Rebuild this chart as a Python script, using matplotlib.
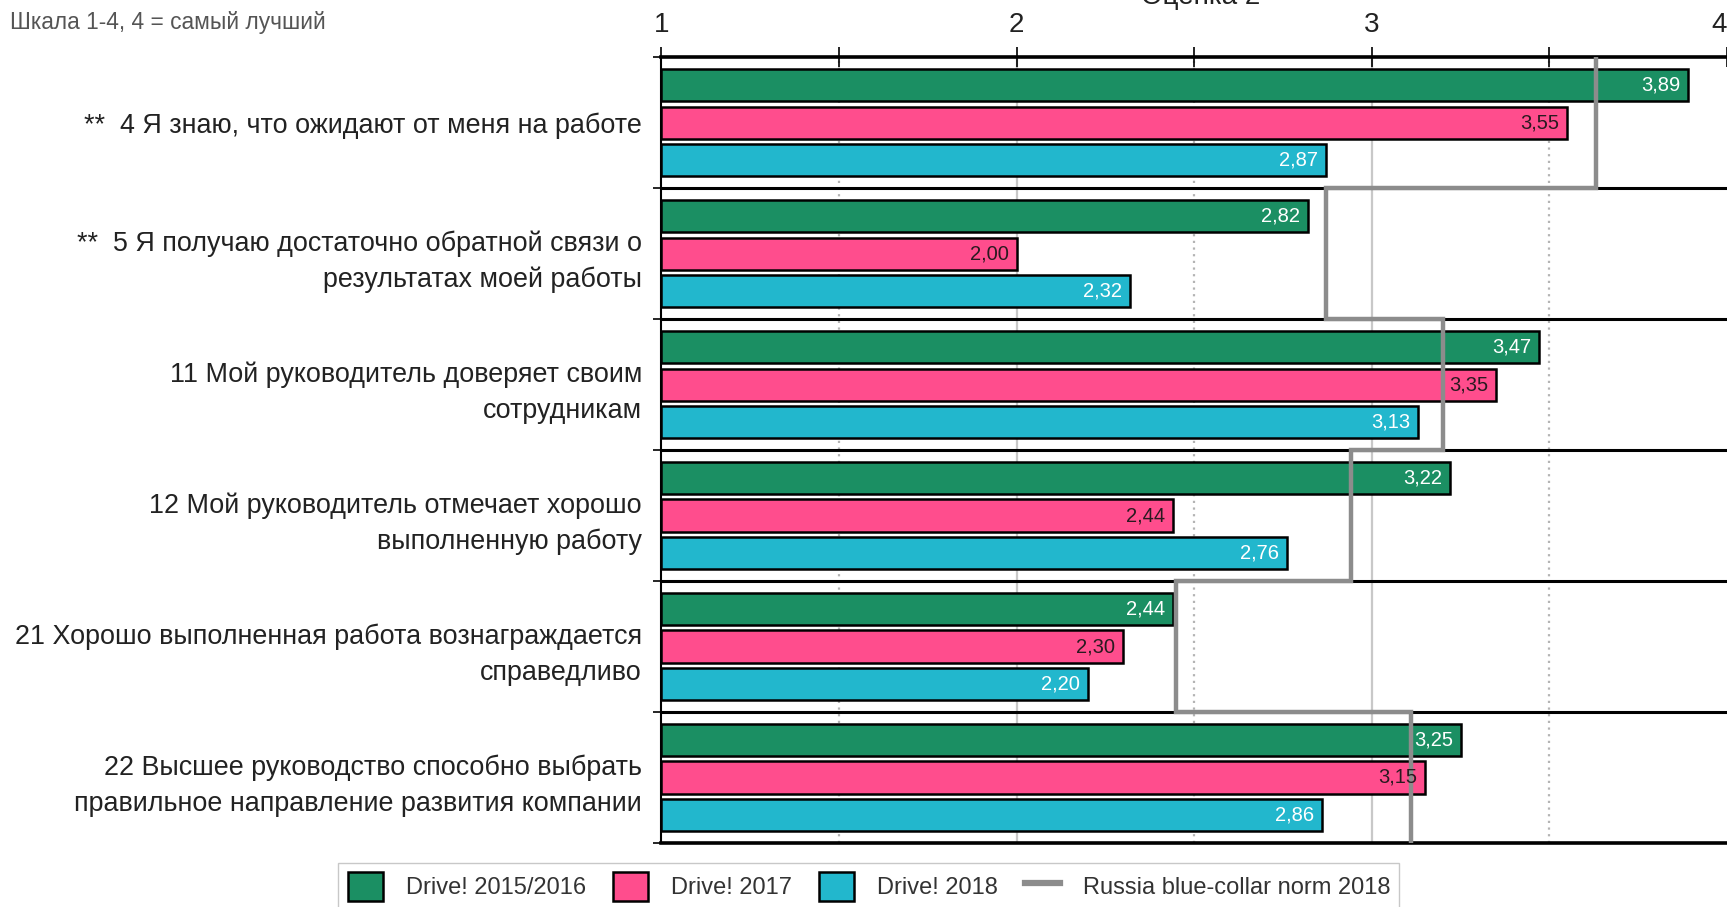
import numpy as np
import matplotlib

matplotlib.use("Agg")
import matplotlib.pyplot as plt
from matplotlib.patches import Patch
from matplotlib.lines import Line2D

plt.rcParams["font.family"] = ["Liberation Sans", "DejaVu Sans"]

categories = [
    "**  4 Я знаю, что ожидают от меня на работе",
    "**  5 Я получаю достаточно обратной связи о\nрезультатах моей работы",
    "11 Мой руководитель доверяет своим\nсотрудникам",
    "12 Мой руководитель отмечает хорошо\nвыполненную работу",
    "21 Хорошо выполненная работа вознаграждается\nсправедливо",
    "22 Высшее руководство способно выбрать\nправильное направление развития компании",
]
series_names = ["Drive! 2015/2016", "Drive! 2017", "Drive! 2018"]
drive_2015 = [3.89, 2.82, 3.47, 3.22, 2.44, 3.25]
drive_2017 = [3.55, 2.00, 3.35, 2.44, 2.30, 3.15]
drive_2018 = [2.87, 2.32, 3.13, 2.76, 2.20, 2.86]
norm_name = "Russia blue-collar norm 2018"
norm_2018 = [3.63, 2.87, 3.20, 2.94, 2.45, 3.11]
xticks = [1, 1.5, 2, 2.5, 3, 3.5, 4]
xtick_labels = ["1", "", "2", "", "3", "", "4"]

colors = ["#1b8f63", "#ff4d8d", "#22b7cd"]
label_colors = ["white", "#2a1a20", "white"]
norm_color = "#8c8c8c"

fig = plt.figure(figsize=(17.27, 9.07), dpi=100)
ax = fig.add_axes([0.383, 0.0706, 0.617, 0.8664])

n = len(categories)
centers = np.arange(n) + 0.5
offsets = [-0.286, 0.0, 0.286]
bar_h = 0.245

for vals, off, col, lcol in zip([drive_2015, drive_2017, drive_2018], offsets, colors, label_colors):
    ys = centers + off
    ax.barh(ys, np.array(vals) - 1, left=1, height=bar_h, color=col,
            edgecolor="black", linewidth=1.8, zorder=3)
    for v, y in zip(vals, ys):
        ax.text(v - 0.022, y, f"{v:.2f}".replace(".", ","), ha="right", va="center",
                fontsize=14.5, color=lcol, zorder=5)

# norm step line across groups
xs = np.repeat(norm_2018, 2)
ys = np.repeat(np.arange(n + 1), 2)[1:-1]
ax.plot(xs, ys, color=norm_color, lw=3.2, zorder=4, solid_joinstyle="miter")

# grid
for gx in [2, 3]:
    ax.axvline(gx, color="#c8c8c8", lw=1.6, zorder=1)
for gx in [1.5, 2.5, 3.5]:
    ax.axvline(gx, color="#b4b4b4", lw=1.6, ls=(0, (1, 2)), zorder=1)
for gy in range(1, n):
    ax.axhline(gy, color="black", lw=2.2, zorder=2)

ax.set_xlim(1, 4)
ax.set_ylim(n, 0)

ax.xaxis.tick_top()
ax.set_xticks(xticks)
ax.set_xticklabels(xtick_labels, fontsize=20, color="#222222")
ax.tick_params(axis="x", direction="inout", length=14, width=1.2, pad=7)
ax.get_xticklabels()[-1].set_ha("right")

ax.set_yticks(centers)
ax.set_yticklabels(categories, fontsize=19.4, color="#222222", linespacing=1.5)
ax.set_yticks(np.arange(n + 1), minor=True)
ax.tick_params(axis="y", which="major", length=0, pad=14)
ax.tick_params(axis="y", which="minor", direction="out", length=6, width=1.2)

for side in ["top", "bottom"]:
    ax.spines[side].set_linewidth(2.6)
ax.spines["left"].set_linewidth(1.5)
ax.spines["right"].set_visible(False)

fig.text(0.006, 0.975, "Шкала 1-4, 4 = самый лучший", fontsize=16.4, color="#555555",
         ha="left", va="center")
fig.text(0.695, 1.003, "Оценка 2", fontsize=20, color="#222222", ha="center", va="center")

handles = [Patch(facecolor=c, edgecolor="black", linewidth=1.8) for c in colors]
handles.append(Line2D([], [], color=norm_color, lw=4.5))
fig.legend(handles, series_names + [norm_name], loc="upper left",
           bbox_to_anchor=(0.189, 0.062), ncol=4, fontsize=17, frameon=True,
           fancybox=False, edgecolor="#bbbbbb", handlelength=1.5, handleheight=1.5,
           columnspacing=1.15, handletextpad=0.95, borderpad=0.4, labelcolor="#333333")

fig.savefig("out.png", dpi=100)
